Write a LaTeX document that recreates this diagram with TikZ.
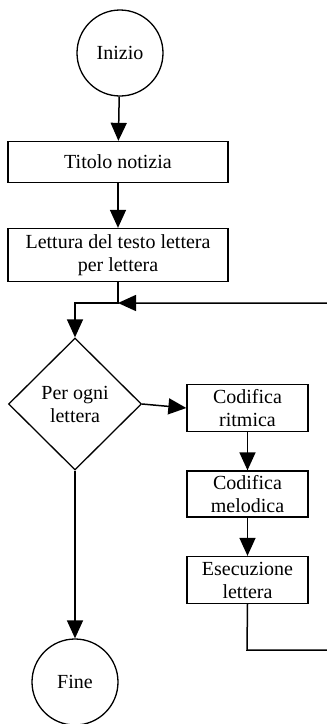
\documentclass[tikz,border=0pt]{standalone}
\usepackage{fontspec}
\setmainfont{Liberation Serif}
\usetikzlibrary{arrows.meta,shapes.geometric}

\begin{document}
\begin{tikzpicture}[>={Triangle[length=18pt,width=16pt]}, x=1pt, y=-1pt,
    line width=1.5pt,
    every node/.style={font=\fontsize{20}{23}\selectfont, align=center, inner sep=0pt},
    term/.style={draw, circle, minimum size=86pt, line width=1.3pt},
    stepbox/.style={draw, rectangle, line width=1.3pt},
    test/.style={draw, diamond, minimum width=133pt, minimum height=132pt, aspect=1, line width=1.3pt}]
    \useasboundingbox (0,0) rectangle (327,724);
    \node[term] (inizio) at (120,53) {Inizio};
    \node[stepbox, minimum width=220pt, minimum height=41pt] (titolo) at (118,162) {Titolo notizia};
    \node[stepbox, minimum width=220pt, minimum height=53pt] (lettura) at (118,255) {Lettura del testo lettera\\per lettera};
    \node[test] (ogni) at (75,404) {Per ogni\\lettera};
    \node[stepbox, minimum width=121pt, minimum height=47pt] (ritmica) at (247.5,408) {Codifica\\ritmica};
    \node[stepbox, minimum width=121pt, minimum height=46pt] (melodica) at (247.5,494) {Codifica\\melodica};
    \node[stepbox, minimum width=121pt, minimum height=47pt] (esec) at (247.5,580) {Esecuzione\\lettera};
    \node[term] (fine) at (75,682) {Fine};
    \coordinate (join) at (118,303);
    \coordinate (back) at (247,650);
    \coordinate (edge) at (340,650);
    \draw[->] (inizio) -- (titolo);
    \draw[->] (titolo) -- (lettura);
    \draw[->] (lettura.south) -- (join) -| (ogni.north);
    \draw[->] (ogni.east) -- (ritmica.west);
    \draw[->] (ritmica) -- (melodica);
    \draw[->] (melodica) -- (esec);
    \draw[->] (ogni.south) -- (fine.north);
    \draw[->] (esec.south) -- (back) -- (edge) |- (join);
\end{tikzpicture}
\end{document}
